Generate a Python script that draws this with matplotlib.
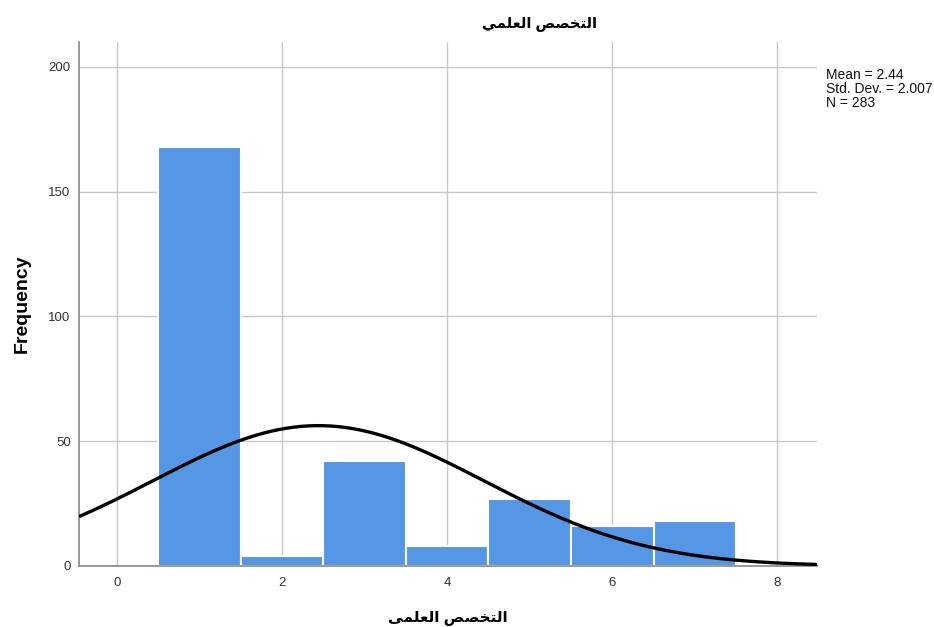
import numpy as np
import matplotlib
matplotlib.use("Agg")
import matplotlib.pyplot as plt

# Data
categories = [1, 2, 3, 4, 5, 6, 7]
frequencies = [168, 4, 42, 8, 27, 16, 18]
mean_val = 2.44
std_val = 2.007
n_val = 283
x_ticks = [0, 2, 4, 6, 8]
y_ticks = [0, 50, 100, 150, 200]

# Arabic text pre-shaped into presentation forms (visual order)
def shape(forms):
    return "".join(reversed(forms))

title_txt = shape(["\uFE8D", "\uFEDF", "\uFE98", "\uFEA8", "\uFEBC", "\uFEBA", " ",
                   "\uFE8D", "\uFEDF", "\uFECC", "\uFEE0", "\uFEE4", "\uFEF2"])
xlabel_txt = shape(["\uFE8D", "\uFEDF", "\uFE98", "\uFEA8", "\uFEBC", "\uFEBA", " ",
                    "\uFE8D", "\uFEDF", "\uFECC", "\uFEE0", "\uFEE4", "\uFEF0"])

fam = ["Liberation Sans", "DejaVu Sans"]
plt.rcParams["font.family"] = fam

fig = plt.figure(figsize=(9.34, 6.27), dpi=100)
ax = fig.add_axes([0.0846, 0.0973, 0.7901, 0.8357])

ax.bar(categories, frequencies, width=1.0, color="#5596e5", edgecolor="white",
       linewidth=1.5, zorder=2)

xs = np.linspace(-0.46, 8.48, 400)
ys = n_val * 1.0 / (std_val * np.sqrt(2 * np.pi)) * np.exp(-0.5 * ((xs - mean_val) / std_val) ** 2)
ax.plot(xs, ys, color="black", linewidth=2.4, zorder=3, solid_capstyle="butt")

ax.set_xlim(-0.46, 8.48)
ax.set_ylim(0, 210)
ax.set_xticks(x_ticks)
ax.set_yticks(y_ticks)
ax.grid(True, color="#c8c8c8", linewidth=1.0, zorder=0)
ax.set_axisbelow(True)
ax.tick_params(length=0, labelsize=9.5, colors="#333333", pad=8)
ax.tick_params(axis="y", pad=6)
for s in ["top", "right"]:
    ax.spines[s].set_visible(False)
for s in ["left", "bottom"]:
    ax.spines[s].set_color("#888888")
    ax.spines[s].set_linewidth(1.2)

ax.set_ylabel("Frequency", fontsize=14, fontweight="bold", labelpad=13)
ax.set_xlabel(xlabel_txt, fontsize=11, fontweight="bold", labelpad=15)
fig.text(539 / 934, 1 - 24 / 627, title_txt, fontsize=10.5, fontweight="bold",
         ha="center", va="center")

fig.text(826 / 934, 1 - 68 / 627,
         f"Mean = {mean_val:.2f}\nStd. Dev. = {std_val:.3f}\nN = {n_val}",
         fontsize=10, va="top", ha="left", linespacing=0.98, color="#111111")

fig.savefig("out.png", dpi=100, facecolor="white")
